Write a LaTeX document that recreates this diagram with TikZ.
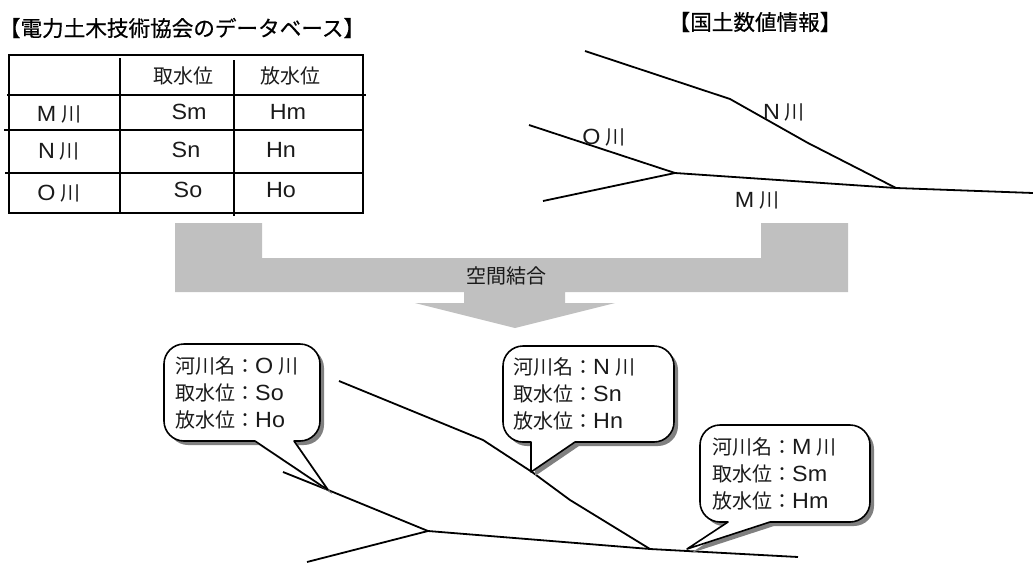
\documentclass[tikz,border=0pt]{standalone}
\usepackage{fontspec}
\setmainfont{Liberation Sans}[Scale=1.1,FakeStretch=1.06]
\newfontfamily\jp{Noto Sans CJK JP}
\newfontfamily\jpb{Noto Sans CJK JP}[FakeBold=0.5]
\newcommand{\ja}[1]{{\jp #1}}
\newcommand{\riv}[1]{#1\hspace{5pt}\ja{川}}
\definecolor{band}{HTML}{C0C0C0}
\definecolor{ink}{HTML}{1A1A1A}
\tikzset{
  x=1pt,y=-1pt,
  rule/.style={draw=black,line width=1.8pt},
  river/.style={draw=black,line width=1.8pt,line join=round},
  ttl/.style={inner sep=0pt,text=black,font=\jpb\fontsize{21.6}{24}\selectfont},
  cell/.style={inner sep=0pt,text=ink,font=\fontsize{20}{24}\selectfont},
  bubbletext/.style={inner sep=0pt,anchor=west,align=left,text=ink,font=\fontsize{20}{27}\selectfont},
  bubble/.style={draw=black,fill=white,line width=1.6pt,line join=round},
  bubbleshadow/.style={fill=black!50,draw=none}
}
\newcommand{\bub}[9]{% l r t b, tail a, tip x y, tail b
  \path[#9] (#1+20,#3) -- (#2-20,#3) .. controls (#2-9,#3) and (#2,#3+9) .. (#2,#3+20) -- (#2,#4-20) .. controls (#2,#4-9) and (#2-9,#4) .. (#2-20,#4)
  -- (#8,#4) -- (#6,#7) -- (#5,#4) -- (#1+20,#4) .. controls (#1+9,#4) and (#1,#4-9) .. (#1,#4-20) -- (#1,#3+20) .. controls (#1,#3+9) and (#1+9,#3) .. (#1+20,#3) -- cycle;
}
\begin{document}
\begin{tikzpicture}
\useasboundingbox (0,0) rectangle (1033,562);
% titles
\node[ttl] (t1) at (182,28) {【電力土木技術協会のデータベース】};
\node[ttl] (t2) at (755,22) {【国土数値情報】};
% table
\draw[rule] (9,55) rectangle (363,213);
\coordinate (v1a) at (120,58); \coordinate (v1b) at (120,214);
\coordinate (v2a) at (234,60); \coordinate (v2b) at (234,216);
\coordinate (h1a) at (7,95);  \coordinate (h1b) at (366,95);
\coordinate (h2a) at (4,130); \coordinate (h2b) at (363,130);
\coordinate (h3a) at (5,173); \coordinate (h3b) at (364,173);
\draw[rule] (v1a)--(v1b) (v2a)--(v2b) (h1a)--(h1b) (h2a)--(h2b) (h3a)--(h3b);
\node[cell] (c01) at (183,76) {\ja{取水位}};
\node[cell] (c02) at (290,76) {\ja{放水位}};
\node[cell] (c10) at (59,114) {\riv{M}};
\node[cell] (c11) at (189,112) {Sm};
\node[cell] (c12) at (288,112) {Hm};
\node[cell] (c20) at (59,151) {\riv{N}};
\node[cell] (c21) at (186,150) {Sn};
\node[cell] (c22) at (281,150) {Hn};
\node[cell] (c30) at (59,193) {\riv{O}};
\node[cell] (c31) at (188,190) {So};
\node[cell] (c32) at (281,190) {Ho};
% top rivers
\coordinate (a1) at (585,51); \coordinate (a2) at (730,99); \coordinate (a3) at (808,143); \coordinate (a4) at (896,188);
\coordinate (a5) at (1033,193); \coordinate (b1) at (529,125); \coordinate (b2) at (675,173); \coordinate (b3) at (543,201);
\draw[river] (a1)--(a2)--(a3)--(a4)--(a5);
\draw[river] (b1)--(b2)--(a4);
\draw[river] (b3)--(b2);
\node[cell] (ln) at (784,112) {\riv{N}};
\node[cell] (lo) at (604,137) {\riv{O}};
\node[cell] (lm) at (757,200) {\riv{M}};
% band
\fill[band] (175,223) -- (262,223) -- (262,258) -- (761,258) -- (761,223) -- (848,223) -- (848,292) -- (565,292) -- (565,303) -- (615,303) -- (515,328) -- (415,303) -- (464,303) -- (464,292) -- (175,292) -- cycle;
\node[cell] (join) at (506,276) {\ja{空間結合}};
% lower rivers
\coordinate (d1) at (339,381); \coordinate (d2) at (483,440); \coordinate (d3) at (532,472); \coordinate (d4) at (570,500);
\coordinate (d5) at (650,549); \coordinate (d6) at (798,557); \coordinate (e1) at (283,472); \coordinate (e2) at (328,490);
\coordinate (e3) at (428,531); \coordinate (e4) at (307,562);
\draw[river] (d1)--(d2)--(d3)--(d4)--(d5)--(d6);
\draw[river] (e1)--(e2)--(e3)--(d5);
\draw[river] (e4)--(e3);
% bubbles
\begin{scope}[shift={(4,4)}]
\bub{164}{320}{344}{441}{255}{328}{490}{294}{bubbleshadow}
\bub{503}{674}{346}{442}{531}{531}{472}{575}{bubbleshadow}
\bub{700}{870}{425}{522}{728}{687}{549}{770}{bubbleshadow}
\end{scope}
\bub{164}{320}{344}{441}{255}{328}{490}{294}{bubble}
\bub{503}{674}{346}{442}{531}{531}{472}{575}{bubble}
\bub{700}{870}{425}{522}{728}{687}{549}{770}{bubble}
\node[bubbletext] (bo) at (175,393) {\ja{河川名：}\riv{O}\\\ja{取水位：}So\\\ja{放水位：}Ho};
\node[bubbletext] (bn) at (513,394) {\ja{河川名：}\riv{N}\\\ja{取水位：}Sn\\\ja{放水位：}Hn};
\node[bubbletext] (bm) at (712,474) {\ja{河川名：}\riv{M}\\\ja{取水位：}Sm\\\ja{放水位：}Hm};
\end{tikzpicture}
\end{document}
